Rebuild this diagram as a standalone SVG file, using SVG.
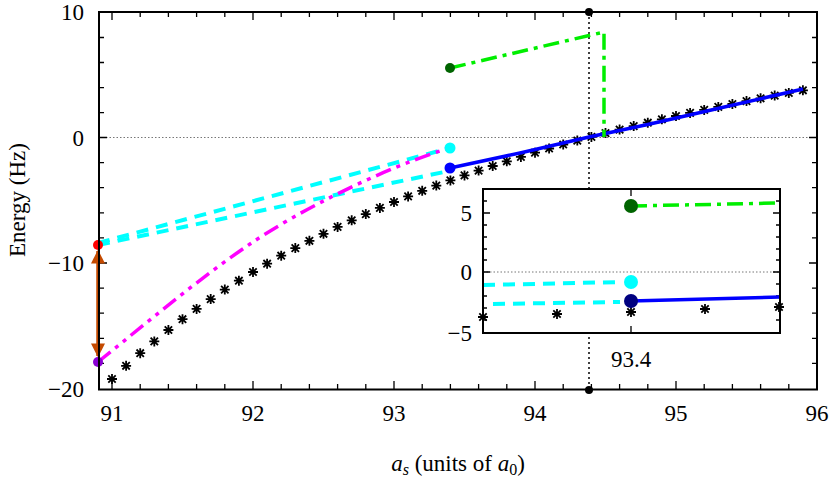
<svg xmlns="http://www.w3.org/2000/svg" width="830" height="483" viewBox="0 0 830 483">
<style>
text{font-family:"Liberation Serif","DejaVu Serif",serif;font-size:23px;fill:#000}
.frame{fill:none;stroke:#000;stroke-width:2}
.tk{stroke:#000;stroke-width:1.3}
.zero{stroke:#777;stroke-width:1;stroke-dasharray:1.5 2}
.cy{fill:none;stroke:#00ffff;stroke-width:4;stroke-dasharray:12 8}
.bl{fill:none;stroke:#0000ff;stroke-width:3.5}
.gr{fill:none;stroke:#00ee00;stroke-width:3.5;stroke-dasharray:16 6 4 6}
.mg{fill:none;stroke:#ff00ff;stroke-width:3.5;stroke-dasharray:16 6 4 6 4 6}
.st{stroke:#000;stroke-width:1.8}
</style>
<defs>
<g id="s"><path class="st" d="M-5 0H5M0 -5V5M-3.7 -3.7L3.7 3.7M-3.7 3.7L3.7 -3.7"/></g>
<marker id="ah" viewBox="0 0 10 10" refX="9" refY="5" markerWidth="4" markerHeight="4" orient="auto-start-reverse"><path d="M0 0L10 5L0 10z" fill="#c44a00"/></marker>
</defs>
<rect width="830" height="483" fill="#fff"/>
<g id="axes">
<line class="zero" x1="99" y1="137.5" x2="817" y2="137.5"/>
<path class="tk" d="M112 389v-8M253 389v-8M394 389v-8M535 389v-8M676 389v-8M112 12v8M253 12v8M394 12v8M535 12v8M676 12v8
M140.2 389v-5M168.4 389v-5M196.6 389v-5M224.8 389v-5M281.2 389v-5M309.4 389v-5M337.6 389v-5M365.8 389v-5M422.2 389v-5M450.4 389v-5M478.6 389v-5M506.8 389v-5M563.2 389v-5M591.4 389v-5M619.6 389v-5M647.8 389v-5M704.2 389v-5M732.4 389v-5M760.6 389v-5M788.8 389v-5
M140.2 12v5M168.4 12v5M196.6 12v5M224.8 12v5M281.2 12v5M309.4 12v5M337.6 12v5M365.8 12v5M422.2 12v5M450.4 12v5M478.6 12v5M506.8 12v5M563.2 12v5M591.4 12v5M619.6 12v5M647.8 12v5M704.2 12v5M732.4 12v5M760.6 12v5M788.8 12v5
M99 137.5h8M99 263h8M817 137.5h-8M817 263h-8
M99 37.5h5M99 62.5h5M99 87.6h5M99 112.7h5M99 162.6h5M99 187.7h5M99 212.8h5M99 237.9h5M99 288.1h5M99 313.2h5M99 338.3h5M99 363.4h5
M817 37.5h-5M817 62.5h-5M817 87.6h-5M817 112.7h-5M817 162.6h-5M817 187.7h-5M817 212.8h-5M817 237.9h-5M817 288.1h-5M817 313.2h-5M817 338.3h-5M817 363.4h-5"/>
<g text-anchor="end"><text x="84" y="20">10</text><text x="84" y="146">0</text><text x="84" y="271">−10</text><text x="84" y="397">−20</text></g>
<g text-anchor="middle"><text x="112" y="421">91</text><text x="253" y="421">92</text><text x="394" y="421">93</text><text x="535" y="421">94</text><text x="676" y="421">95</text><text x="817" y="421">96</text>
<text x="458" y="471"><tspan font-style="italic">a</tspan><tspan font-style="italic" font-size="16" dy="4">s</tspan><tspan dy="-4"> (units of </tspan><tspan font-style="italic">a</tspan><tspan font-size="16" dy="4">0</tspan><tspan dy="-4">)</tspan></text>
<text transform="translate(25 200) rotate(-90)">Energy (Hz)</text></g>
</g>
<g id="stars">
<use href="#s" x="112" y="379"/><use href="#s" x="126.1" y="365.8"/><use href="#s" x="140.2" y="353.2"/><use href="#s" x="154.3" y="341.4"/><use href="#s" x="168.4" y="330"/><use href="#s" x="182.5" y="319.2"/><use href="#s" x="196.6" y="308.9"/><use href="#s" x="210.7" y="299.1"/><use href="#s" x="224.8" y="289.6"/><use href="#s" x="238.9" y="280.7"/><use href="#s" x="253" y="272"/><use href="#s" x="267.1" y="263.7"/><use href="#s" x="281.2" y="255.7"/><use href="#s" x="295.3" y="248.1"/><use href="#s" x="309.4" y="240.8"/><use href="#s" x="323.5" y="233.8"/><use href="#s" x="337.6" y="226.9"/><use href="#s" x="351.7" y="220.3"/><use href="#s" x="365.8" y="214.1"/><use href="#s" x="379.9" y="207.9"/><use href="#s" x="394" y="202"/><use href="#s" x="408.1" y="196.4"/><use href="#s" x="422.2" y="190.8"/><use href="#s" x="436.3" y="185.6"/><use href="#s" x="450.4" y="180.4"/><use href="#s" x="464.5" y="175.4"/><use href="#s" x="478.6" y="170.6"/><use href="#s" x="492.7" y="166"/><use href="#s" x="506.8" y="161.3"/><use href="#s" x="520.9" y="156.9"/><use href="#s" x="535" y="152.7"/><use href="#s" x="549.1" y="148.5"/><use href="#s" x="563.2" y="144.5"/><use href="#s" x="577.3" y="140.6"/><use href="#s" x="591.4" y="136.9"/><use href="#s" x="605.5" y="133.1"/><use href="#s" x="619.6" y="129.6"/><use href="#s" x="633.7" y="126.1"/><use href="#s" x="647.8" y="122.7"/><use href="#s" x="661.9" y="119.3"/><use href="#s" x="676" y="116"/><use href="#s" x="690.1" y="112.9"/><use href="#s" x="704.2" y="109.9"/><use href="#s" x="718.3" y="106.9"/><use href="#s" x="732.4" y="104"/><use href="#s" x="746.5" y="101.1"/><use href="#s" x="760.6" y="98.3"/><use href="#s" x="774.7" y="95.6"/><use href="#s" x="788.8" y="92.9"/><use href="#s" x="802.9" y="90.3"/>
</g>
<g id="curves">
<line x1="589" y1="12" x2="589" y2="390" stroke="#000" stroke-width="1.5" stroke-dasharray="2 3"/>
<polyline class="cy" points="98,243 450,148"/>
<polyline class="cy" points="98,245 444,172"/>
<path class="mg" d="M98 362 C150 320 200 278 250 244 S380 170 446 149"/>
<path class="bl" d="M450 168 L520 153 L589 137 L650 124 L720 108 L803 89"/>
<path class="gr" d="M450 68 L604 32 L604 137"/>
<line x1="98" y1="251" x2="98" y2="356" stroke="#c44a00" stroke-width="3.5" marker-start="url(#ah)" marker-end="url(#ah)"/>
<circle cx="98" cy="245" r="5" fill="#ff0000"/><circle cx="98" cy="362" r="5" fill="#8a00d4"/>
<circle cx="450" cy="68" r="5" fill="#006400"/><circle cx="450" cy="148" r="5.5" fill="#00ffff"/><circle cx="450" cy="168" r="5.5" fill="#0000ff"/>
<circle cx="589" cy="12" r="4" fill="#000"/><circle cx="589" cy="390" r="4" fill="#000"/>
</g>
<g id="inset">
<rect x="483" y="189" width="297" height="144" fill="#fff"/>
<line class="zero" x1="483" y1="272" x2="780" y2="272"/>
<path class="tk" d="M483 213h7M483 272h7M780 213h-7M780 272h-7M483 201h4M483 225h4M483 237h4M483 249h4M483 260h4M483 284h4M483 296h4M483 308h4M483 320h4M780 201h-4M780 225h-4M780 237h-4M780 249h-4M780 260h-4M780 284h-4M780 296h-4M780 308h-4M780 320h-4M631 189v7M631 333v-7"/>
<use href="#s" x="483" y="317"/><use href="#s" x="557" y="314"/><use href="#s" x="631" y="312"/><use href="#s" x="705" y="309"/><use href="#s" x="779" y="307"/>
<line class="cy" x1="483" y1="285" x2="622" y2="282"/>
<line class="cy" x1="493" y1="304" x2="620" y2="302"/>
<line class="bl" x1="631" y1="301" x2="780" y2="297"/>
<line class="gr" x1="631" y1="206" x2="780" y2="203"/>
<circle cx="631" cy="206" r="7" fill="#006400"/><circle cx="631" cy="282" r="7" fill="#00ffff"/><circle cx="631" cy="301" r="7" fill="#000080"/>
<rect class="frame" x="483" y="189" width="297" height="144"/>
<g text-anchor="end"><text x="472" y="221">5</text><text x="472" y="280">0</text><text x="472" y="341">−5</text></g>
<text x="631" y="367" text-anchor="middle">93.4</text>
</g>
<rect class="frame" x="99" y="12" width="718" height="377.5"/>
</svg>
